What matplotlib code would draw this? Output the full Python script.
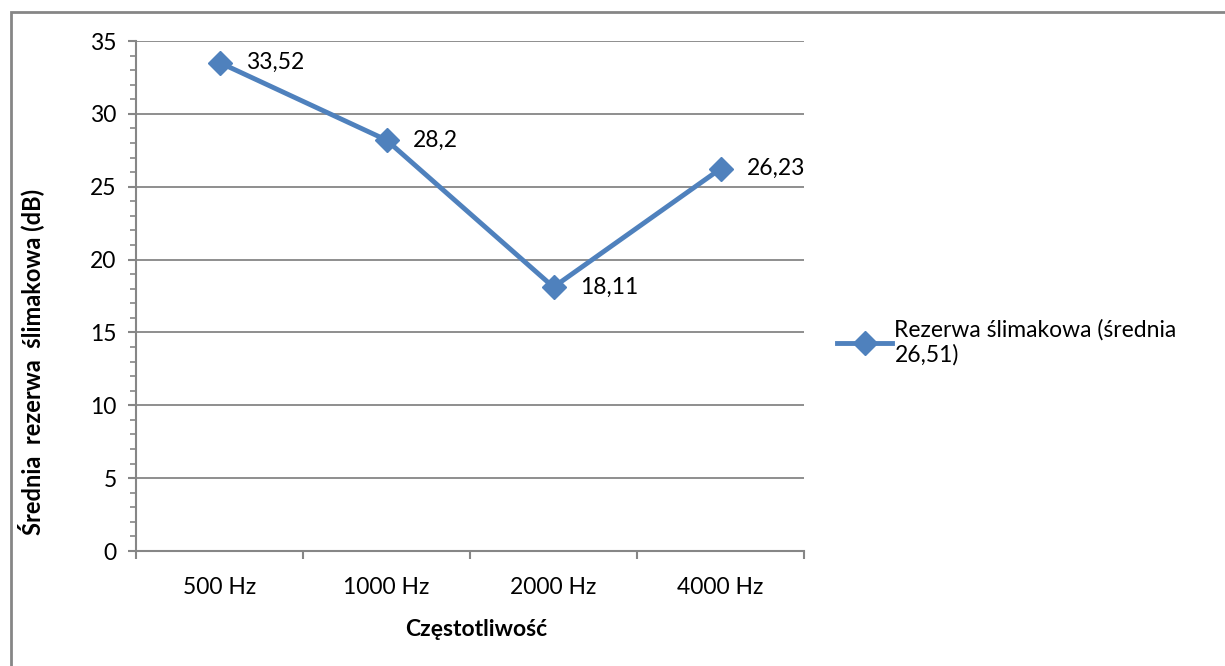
import matplotlib.pyplot as plt
from matplotlib.patches import Rectangle
from matplotlib.lines import Line2D
from matplotlib.ticker import MultipleLocator

categories = ['500 Hz', '1000 Hz', '2000 Hz', '4000 Hz']
values = [33.52, 28.2, 18.11, 26.23]
value_labels = ['33,52', '28,2', '18,11', '26,23']
series_name = 'Rezerwa ślimakowa (średnia\n26,51)'

plt.rcParams['font.family'] = ['Lato', 'DejaVu Sans']
blue = '#4F81BD'
grey = '#868686'
fs = 16.5

fig = plt.figure(figsize=(12.25, 6.66), dpi=100)
ax = fig.add_axes([136 / 1225, 1 - 551 / 666, 668 / 1225, 510 / 666])

# chart frame
fig.patches.append(Rectangle((10.5 / 1225, -0.1), 1.2, 1 - 11.5 / 666 + 0.1,
                             transform=fig.transFigure, fill=False,
                             edgecolor=grey, linewidth=2))

x = range(len(categories))
ax.plot(x, values, color=blue, linewidth=3.5, marker='D', markersize=12,
        markeredgecolor=blue, zorder=3)
for xi, v, lab in zip(x, values, value_labels):
    ax.annotate(lab, (xi, v), xytext=(19, 0), textcoords='offset points',
                va='center', ha='left', fontsize=fs)

ax.set_xlim(-0.5, 3.5)
ax.set_ylim(0, 35)
ax.yaxis.set_major_locator(MultipleLocator(5))
ax.yaxis.set_minor_locator(MultipleLocator(1))
ax.set_xticks([i - 0.5 for i in range(5)], minor=False)
ax.set_xticklabels([])
ax.set_xticks(list(x), minor=True)
ax.set_xticklabels(categories, minor=True, fontsize=fs)
ax.tick_params(axis='x', which='minor', length=0, pad=19)
ax.tick_params(axis='x', which='major', length=6, width=1.5, color=grey)
ax.tick_params(axis='y', which='major', length=6, width=1.5, color=grey,
               labelsize=fs, pad=8)
ax.tick_params(axis='y', which='minor', length=4, width=1.2, color=grey)
ax.grid(axis='y', which='major', color=grey, linewidth=1.3)
ax.set_axisbelow(True)
for side in ['top', 'right']:
    ax.spines[side].set_visible(False)
for side in ['left', 'bottom']:
    ax.spines[side].set_color(grey)
    ax.spines[side].set_linewidth(1.5)

ax.set_xlabel('Częstotliwość', fontsize=fs, fontweight='bold')
ax.xaxis.set_label_coords(0.509, -0.134)
ax.set_ylabel('Średnia  rezerwa  ślimakowa (dB)', fontsize=17,
              fontweight='bold')
ax.yaxis.set_label_coords(-0.138, 0.37)

handle = Line2D([], [], color=blue, linewidth=3.5, marker='D', markersize=12)
fig.legend([handle], [series_name], loc='upper left',
           bbox_to_anchor=(828 / 1225, 1 - 310 / 666), frameon=False,
           fontsize=fs, handlelength=2.4, handletextpad=0.1,
           borderaxespad=0, labelspacing=0)

fig.savefig('out.png', dpi=100)
